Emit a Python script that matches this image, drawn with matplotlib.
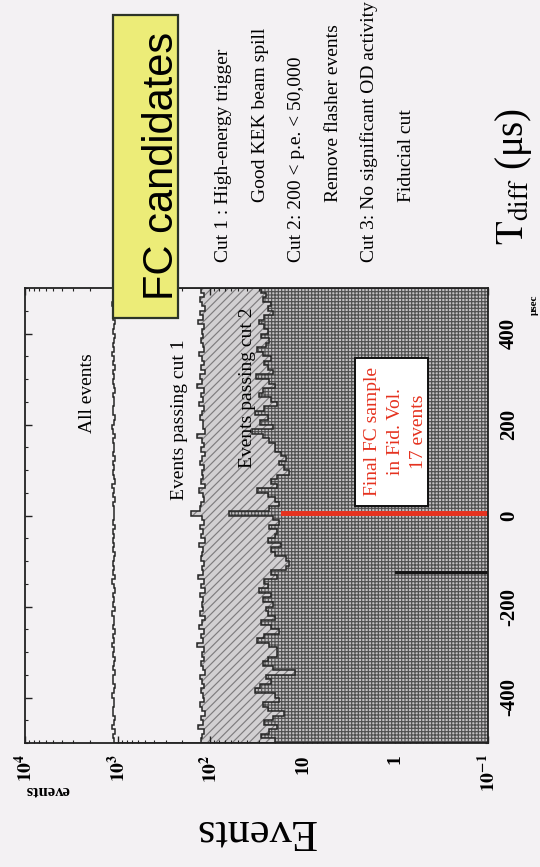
import numpy as np
import matplotlib
matplotlib.use("Agg")
import matplotlib.pyplot as plt
from matplotlib.patches import Rectangle
from matplotlib.ticker import LogLocator, MultipleLocator, NullFormatter

plt.rcParams["font.family"] = ["Liberation Serif", "DejaVu Serif"]
plt.rcParams["mathtext.fontset"] = "stix"
plt.rcParams["axes.unicode_minus"] = False
plt.rcParams["hatch.linewidth"] = 0.85

# ---------------- data ----------------
# T_diff binning in microseconds; bin i covers [t_min + i*bin_width, t_min + (i+1)*bin_width)
t_min, t_max, bin_width = -500, 500, 10

all_events = [
    1090, 1120, 1075, 1140, 1100, 1060, 1115, 1130, 1085, 1105,
    1150, 1095, 1070, 1110, 1125, 1080, 1135, 1100, 1065, 1120,
    1095, 1140, 1085, 1110, 1075, 1130, 1100, 1090, 1145, 1070,
    1115, 1095, 1125, 1080, 1105, 1140, 1060, 1110, 1090, 1130,
    1100, 1075, 1120, 1095, 1135, 1085, 1110, 1070, 1125, 1100,
    1105, 1090, 1130, 1080, 1115, 1100, 1145, 1075, 1095, 1120,
    1085, 1110, 1065, 1135, 1100, 1090, 1125, 1080, 1115, 1140,
    1095, 1070, 1110, 1130, 1085, 1105, 1120, 1060, 1100, 1135,
    1090, 1115, 1075, 1125, 1100, 1140, 1085, 1110, 1095, 1070,
    1130, 1105, 1080, 1120, 1095, 1110, 1145, 1085, 1100, 1115,
]

cut1_events = [
    126, 122, 118, 134, 120, 125, 115, 123, 129, 117,
    121, 126, 118, 122, 130, 113, 120, 127, 116, 124,
    118, 139, 121, 125, 117, 132, 123, 115, 128, 119,
    124, 120, 129, 113, 126, 118, 136, 121, 124, 116,
    127, 123, 119, 131, 114, 125, 120, 129, 117, 122,
    160, 128, 125, 118, 121, 133, 115, 126, 119, 124,
    117, 130, 122, 113, 127, 118, 123, 140, 115, 121,
    119, 128, 124, 116, 131, 120, 125, 117, 138, 122,
    129, 114, 126, 118, 123, 132, 116, 121, 127, 119,
    124, 117, 135, 120, 128, 115, 122, 130, 118, 125,
]

cut2_events = [
    20, 28, 23, 19, 26, 21, 16, 24, 27, 18,
    20, 33, 29, 22, 25, 12, 21, 27, 24, 19,
    19, 23, 31, 26, 18, 22, 28, 20, 24, 25,
    21, 27, 22, 30, 24, 26, 19, 22, 15, 14,
    15, 20, 22, 17, 24, 20, 19, 23, 18, 21,
    63, 23, 18, 20, 24, 31, 19, 22, 19, 14,
    16, 18, 15, 17, 20, 20, 23, 27, 35, 21,
    29, 24, 33, 26, 19, 22, 30, 27, 20, 23,
    32, 21, 24, 26, 22, 27, 31, 25, 23, 28,
    24, 26, 30, 26, 21, 24, 22, 27, 25, 28,
]

# final FC sample: bin start (usec), number of events, colour
final_bin_start = [0, -130]
final_counts = [17, 1]
final_colors = ["#e5321f", "#151515"]

events_ticks = [1e4, 1e3, 1e2, 1e1, 1e0, 1e-1]
events_tick_labels = [r"$\mathbf{10^{4}}$", r"$\mathbf{10^{3}}$", r"$\mathbf{10^{2}}$",
                      "10", "1", r"$\mathbf{10^{-1}}$"]
time_ticks = [-400, -200, 0, 200, 400]

cut_notes = ["Cut 1 : High-energy trigger", "Good KEK beam spill",
             "Cut 2: 200 < p.e. < 50,000", "Remove flasher events",
             "Cut 3: No significant OD activity", "Fiducial cut"]

# ---------------- figure ----------------
W, H = 540, 867
fig = plt.figure(figsize=(W / 100, H / 100), dpi=100)
bg = "#f3f1f3"
fig.patch.set_facecolor(bg)


def fp(x, y):
    """pixel position (from top-left) -> figure fraction"""
    return x / W, 1 - y / H


x0, x1, y0, y1 = 25, 488, 288, 743
ax = fig.add_axes([x0 / W, 1 - y1 / H, (x1 - x0) / W, (y1 - y0) / H])
ax.set_facecolor(bg)
ax.set_xscale("log")
ax.set_xlim(1e4, 1e-1)
ax.set_ylim(t_min, t_max)

edges = np.arange(t_min, t_max + bin_width, bin_width)
base = 1e-1
outline = "#262626"

ax.stairs(cut1_events, edges, orientation="horizontal", baseline=base, fill=True,
          facecolor="#d2d0d2", edgecolor="#7e7c7e", hatch="////", linewidth=0, zorder=1)
ax.stairs(cut2_events, edges, orientation="horizontal", baseline=base, fill=True,
          facecolor="#c4c2c4", edgecolor="#505050", hatch="+++++", linewidth=0, zorder=2)
for vals in (all_events, cut1_events, cut2_events):
    ax.stairs(vals, edges, orientation="horizontal", baseline=base, fill=False,
              color=outline, linewidth=1.1, zorder=3)

centers = [s + bin_width / 2 for s in final_bin_start]
ax.barh(centers, [n - base for n in final_counts], left=base, height=[10, 6],
        color=final_colors, linewidth=0, zorder=4)

for sp in ax.spines.values():
    sp.set_linewidth(1.3)
    sp.set_color("#222222")
    sp.set_zorder(5)

ax.set_xticks(events_ticks)
ax.set_xticklabels(events_tick_labels)
ax.xaxis.set_minor_locator(LogLocator(base=10, subs=np.arange(2, 10), numticks=20))
ax.xaxis.set_minor_formatter(NullFormatter())
ax.set_yticks(time_ticks)
ax.yaxis.set_minor_locator(MultipleLocator(50))
ax.tick_params(which="both", direction="in", top=True, bottom=True, left=True, right=True,
               labelleft=False, labelright=True, color="#222222")
ax.tick_params(which="major", length=5, width=1)
ax.tick_params(which="minor", length=2.5, width=0.8)
ax.tick_params(axis="x", labelrotation=90, labelsize=14, pad=8)
ax.tick_params(axis="y", labelrotation=90, labelsize=15, pad=8)
for lab in ax.get_xticklabels() + ax.get_yticklabels():
    lab.set_fontweight("bold")
for lab in ax.get_yticklabels():
    lab.set_va("center")


def rtext(x, y, s, **kw):
    kw.setdefault("rotation", 90)
    kw.setdefault("rotation_mode", "anchor")
    kw.setdefault("va", "baseline")
    fig.text(*fp(x, y), s, **kw)


# labels inside the plot
rtext(92, 393, "All events", ha="center", fontsize=14, zorder=6)
rtext(184, 420, "Events passing cut 1", ha="center", fontsize=14, zorder=6)
rtext(252, 388, "Events passing cut 2", ha="center", fontsize=14, zorder=6)

# final sample box
fig.add_artist(Rectangle(fp(355, 506), 73 / W, 148 / H, transform=fig.transFigure,
                         facecolor="white", edgecolor="#111111", linewidth=1.4, zorder=6))
for xb, line in zip([377, 400, 423], ["Final FC sample", "in Fid. Vol.", "17 events"]):
    rtext(xb, 432, line, ha="center", fontsize=14, color="#e5321f", zorder=7)

# title box
fig.add_artist(Rectangle(fp(113, 318), 65 / W, 303 / H, transform=fig.transFigure,
                         facecolor="#ecec78", edgecolor="#2c3428", linewidth=1.6, zorder=8))
rtext(173, 166, "FC candidates", ha="center", fontsize=30, zorder=9,
      family=["Liberation Sans", "DejaVu Sans"])

# list of selection cuts
for i, note in enumerate(cut_notes):
    xb = 228 + 36.6 * i
    ystart = 262 if i % 2 == 0 else 202
    rtext(xb, ystart, note, ha="left", fontsize=14)

# axis titles
rtext(523, 245, r"$\mathrm{T}_{\mathrm{diff}}$ (μs)", ha="left", fontsize=28)
rtext(537, 305, "μsec", ha="center", fontsize=8, fontweight="bold")
rtext(255, 820, "Events", ha="center", fontsize=32, rotation=180)
rtext(47, 786, "events", ha="center", fontsize=12, fontweight="bold", rotation=180)

fig.savefig("out.png", dpi=100, facecolor=bg)
